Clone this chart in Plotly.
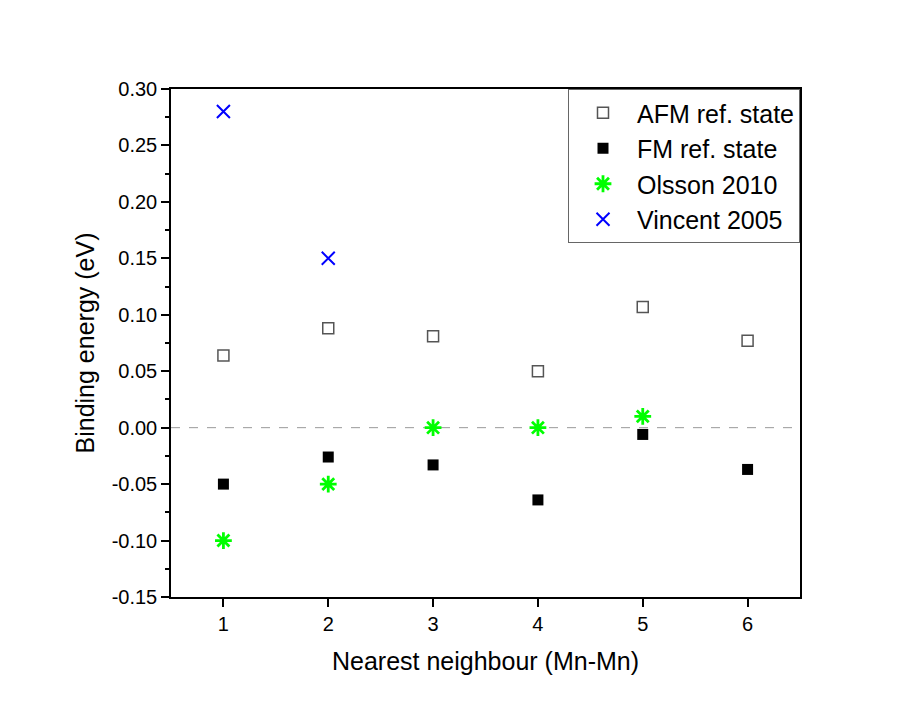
import plotly.graph_objects as go

neighbours = [1, 2, 3, 4, 5, 6]
afm_ref = [0.064, 0.088, 0.081, 0.050, 0.107, 0.077]
fm_ref = [-0.050, -0.026, -0.033, -0.064, -0.006, -0.037]
olsson_x = [1, 2, 3, 4, 5]
olsson_2010 = [-0.10, -0.05, 0.00, 0.00, 0.01]
vincent_x = [1, 2]
vincent_2005 = [0.28, 0.15]
y_ticks = [-0.15, -0.10, -0.05, 0.00, 0.05, 0.10, 0.15, 0.20, 0.25, 0.30]
y_labels = ["-0.15", "-0.10", "-0.05", "0.00", "0.05", "0.10", "0.15", "0.20", "0.25", "0.30"]

FONT = "Liberation Sans, Arial, sans-serif"

fig = go.Figure()
fig.add_trace(go.Scatter(x=neighbours, y=afm_ref, mode="markers", name="AFM ref. state",
                         marker=dict(symbol="square-open", size=11, color="#555555", line=dict(width=1.5))))
fig.add_trace(go.Scatter(x=neighbours, y=fm_ref, mode="markers", name="FM ref. state",
                         marker=dict(symbol="square", size=11, color="black")))
fig.add_trace(go.Scatter(x=olsson_x, y=olsson_2010, mode="markers", name="Olsson 2010",
                         marker=dict(symbol="asterisk-open", size=14, color="#00ff00",
                                     line=dict(width=2.8, color="#00ff00"))))
fig.add_trace(go.Scatter(x=vincent_x, y=vincent_2005, mode="markers", name="Vincent 2005",
                         marker=dict(symbol="x-thin-open", size=13, color="#0000ff",
                                     line=dict(width=2, color="#0000ff"))))

fig.add_shape(type="line", xref="paper", x0=0, x1=1, yref="y", y0=0, y1=0,
              line=dict(color="#999999", width=1, dash="dash"), layer="below")

fig.update_layout(
    width=912, height=707,
    margin=dict(l=163, r=120, t=81, b=118, autoexpand=False),
    paper_bgcolor="white", plot_bgcolor="white",
    font=dict(family=FONT, color="black", size=20),
    showlegend=True,
    legend=dict(x=1, xanchor="right", y=1, yanchor="top",
                bordercolor="#666666", borderwidth=1, bgcolor="white",
                itemwidth=58,
                font=dict(size=25, family=FONT)),
    xaxis=dict(range=[0.5, 6.5], tickvals=neighbours, ticktext=[str(v) for v in neighbours],
               showline=True, linecolor="black", linewidth=1.5, mirror=True,
               ticks="outside", ticklen=8, tickwidth=1.5, tickcolor="black",
               showgrid=False, zeroline=False, automargin=False,
               title=dict(text="Nearest neighbour (Mn-Mn)", font=dict(size=25), standoff=19),
               tickfont=dict(size=20)),
    yaxis=dict(range=[-0.15, 0.30], tickvals=y_ticks, ticktext=y_labels,
               showline=True, linecolor="black", linewidth=1.5, mirror=True,
               ticks="outside", ticklen=8, tickwidth=1.5, tickcolor="black",
               minor=dict(dtick=0.025, ticks="outside", ticklen=4, tickwidth=1.5, tickcolor="black"),
               showgrid=False, zeroline=False, automargin=False,
               title=dict(text="Binding energy (eV)", font=dict(size=25), standoff=10),
               tickfont=dict(size=20)),
)

fig.write_html("out.html")
